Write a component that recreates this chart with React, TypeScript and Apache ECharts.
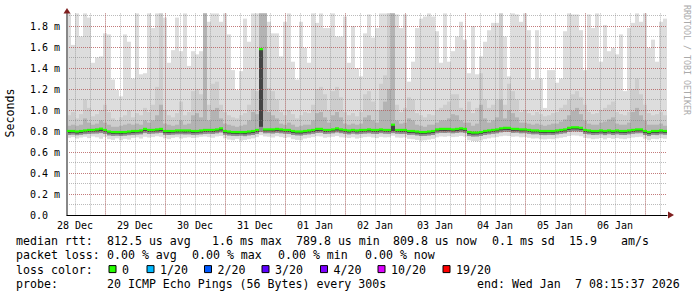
import React, { useEffect, useRef } from "react";
import * as echarts from "echarts";

// ---- data (milliseconds), one value per 4px column ----
const maxRtt = [
  1.92, 1.62, 1.92, 1.70, 1.92, 1.88, 1.45, 1.50, 1.51, 1.73,
  1.72, 1.29, 1.19, 1.13, 1.72, 1.65, 1.30, 1.92, 1.34, 1.35,
  1.92, 1.78, 1.92, 1.92, 1.88, 1.45, 1.57, 1.88, 1.56, 1.92,
  1.42, 1.56, 1.53, 1.56, 1.92, 1.84, 1.92, 1.92, 1.84, 1.92,
  1.72, 1.38, 1.19, 1.37, 1.87, 1.65, 1.92, 1.92, 1.92, 1.92,
  1.84, 1.73, 1.73, 1.51, 1.84, 1.92, 1.46, 1.29, 1.84, 1.59,
  1.45, 1.92, 1.83, 1.92, 1.78, 1.78, 1.92, 1.70, 1.70, 1.89,
  1.45, 1.80, 1.40, 1.32, 1.73, 1.91, 1.69, 1.78, 1.92, 1.92,
  1.92, 1.92, 1.91, 1.78, 1.91, 1.27, 1.46, 1.78, 1.87, 1.89,
  1.92, 1.89, 1.75, 1.45, 1.92, 1.46, 1.56, 1.70, 1.84, 1.67,
  1.35, 1.80, 1.34, 1.51, 1.65, 1.76, 1.83, 1.83, 1.92, 1.70,
  1.32, 1.92, 1.91, 1.84, 1.92, 1.76, 1.29, 1.76, 1.30, 1.02,
  1.38, 1.38, 1.26, 1.30, 1.75, 1.92, 1.91, 1.91, 1.76, 1.38,
  1.91, 1.78, 1.92, 1.46, 1.81, 1.56, 1.59, 1.53, 1.72, 1.18,
  1.78, 1.83, 1.92, 1.84, 1.92, 1.59, 1.67, 1.46, 1.84, 1.87,
];
const p90Rtt = [
  0.95, 0.98, 0.92, 0.96, 1.10, 1.02, 0.94, 0.96, 1.00, 1.05,
  0.98, 0.92, 0.90, 0.93, 0.95, 1.00, 0.93, 0.97, 0.95, 1.02,
  0.98, 1.05, 1.22, 1.92, 1.00, 0.95, 0.93, 0.97, 1.08, 0.95,
  0.98, 1.18, 1.20, 1.15, 1.92, 1.05, 1.25, 1.27, 1.05, 0.98,
  0.95, 0.93, 0.92, 0.95, 0.97, 1.05, 1.20, 1.18, 1.92, 1.92,
  1.21, 1.18, 1.10, 0.98, 0.95, 1.00, 0.96, 0.92, 0.95, 0.98,
  0.97, 1.05, 1.20, 1.22, 1.15, 1.00, 1.18, 1.22, 1.12, 0.98,
  0.95, 0.97, 0.94, 0.98, 1.15, 1.18, 1.08, 1.00, 1.25, 1.33,
  1.92, 1.92, 1.05, 0.98, 1.02, 1.12, 1.10, 0.97, 0.95, 0.93,
  0.96, 0.95, 1.00, 1.02, 1.05, 1.08, 1.15, 1.15, 1.02, 1.00,
  1.08, 0.97, 1.02, 1.35, 1.10, 1.02, 1.05, 1.10, 1.92, 1.05,
  1.25, 1.18, 1.10, 0.98, 1.00, 0.97, 0.95, 0.98, 0.96, 0.94,
  0.95, 0.97, 0.98, 1.02, 1.05, 1.10, 1.15, 1.18, 1.12, 1.05,
  0.98, 0.96, 0.97, 1.00, 1.02, 1.05, 1.08, 0.98, 0.96, 0.95,
  0.98, 1.20, 1.30, 1.15, 1.05, 0.97, 0.95, 0.96, 0.98, 0.95,
];
const p75Rtt = [
  0.85, 0.86, 0.85, 0.86, 0.92, 0.88, 0.86, 0.87, 0.90, 0.88,
  0.86, 0.84, 0.84, 0.85, 0.86, 0.87, 0.86, 0.87, 0.86, 0.90,
  0.88, 0.90, 0.95, 1.05, 0.87, 0.86, 0.85, 0.86, 0.90, 0.86,
  0.87, 0.95, 0.97, 0.93, 1.92, 0.90, 1.00, 1.02, 0.92, 0.87,
  0.86, 0.85, 0.84, 0.85, 0.86, 0.90, 0.98, 0.96, 1.92, 1.92,
  0.98, 0.95, 0.92, 0.87, 0.86, 0.88, 0.86, 0.84, 0.85, 0.86,
  0.86, 0.90, 0.97, 0.98, 0.93, 0.88, 0.95, 0.98, 0.93, 0.87,
  0.86, 0.87, 0.86, 0.87, 0.93, 0.95, 0.90, 0.88, 1.00, 1.08,
  1.20, 1.92, 0.90, 0.87, 0.88, 0.92, 0.90, 0.86, 0.85, 0.84,
  0.86, 0.86, 0.88, 0.90, 0.90, 0.92, 0.96, 0.95, 0.90, 0.88,
  0.88, 0.85, 0.87, 1.05, 0.92, 0.88, 0.90, 0.93, 1.10, 0.92,
  1.00, 0.97, 0.93, 0.88, 0.88, 0.87, 0.86, 0.87, 0.86, 0.85,
  0.86, 0.87, 0.87, 0.89, 0.91, 0.95, 0.99, 1.02, 0.96, 0.90,
  0.87, 0.86, 0.86, 0.88, 0.89, 0.91, 0.93, 0.87, 0.86, 0.86,
  0.88, 0.98, 1.02, 0.95, 0.90, 0.86, 0.86, 0.86, 0.87, 0.85,
];
const medianRtt = [
  0.800, 0.800, 0.795, 0.800, 0.805, 0.810, 0.810, 0.815, 0.822, 0.810,
  0.795, 0.790, 0.790, 0.790, 0.790, 0.795, 0.800, 0.800, 0.805, 0.820,
  0.810, 0.810, 0.815, 0.820, 0.800, 0.800, 0.800, 0.805, 0.805, 0.805,
  0.805, 0.800, 0.800, 0.805, 0.810, 0.810, 0.810, 0.815, 0.825, 0.800,
  0.795, 0.790, 0.790, 0.790, 0.790, 0.795, 0.800, 0.810, 1.580, 0.815,
  0.815, 0.815, 0.820, 0.815, 0.810, 0.810, 0.800, 0.795, 0.795, 0.800,
  0.805, 0.810, 0.820, 0.820, 0.810, 0.810, 0.815, 0.825, 0.815, 0.810,
  0.805, 0.810, 0.805, 0.810, 0.810, 0.815, 0.810, 0.810, 0.815, 0.810,
  0.810, 0.860, 0.810, 0.810, 0.810, 0.800, 0.800, 0.795, 0.790, 0.790,
  0.795, 0.800, 0.815, 0.820, 0.820, 0.820, 0.815, 0.820, 0.825, 0.820,
  0.790, 0.785, 0.785, 0.790, 0.800, 0.805, 0.810, 0.815, 0.825, 0.830,
  0.830, 0.820, 0.820, 0.815, 0.815, 0.810, 0.805, 0.805, 0.800, 0.800,
  0.800, 0.800, 0.805, 0.810, 0.815, 0.830, 0.835, 0.835, 0.830, 0.810,
  0.805, 0.800, 0.800, 0.805, 0.800, 0.805, 0.800, 0.805, 0.800, 0.800,
  0.805, 0.810, 0.815, 0.815, 0.800, 0.790, 0.800, 0.800, 0.805, 0.800,
];
const p25Rtt = [
  0.780, 0.783, 0.776, 0.781, 0.788, 0.790, 0.793, 0.795, 0.800, 0.792,
  0.777, 0.772, 0.773, 0.770, 0.774, 0.778, 0.781, 0.784, 0.786, 0.800,
  0.791, 0.793, 0.796, 0.801, 0.782, 0.780, 0.783, 0.786, 0.787, 0.785,
  0.787, 0.781, 0.783, 0.786, 0.791, 0.792, 0.790, 0.796, 0.805, 0.782,
  0.776, 0.772, 0.771, 0.773, 0.770, 0.777, 0.781, 0.790, 0.840, 0.796,
  0.797, 0.795, 0.801, 0.796, 0.792, 0.790, 0.781, 0.777, 0.776, 0.782,
  0.786, 0.791, 0.800, 0.802, 0.790, 0.792, 0.796, 0.805, 0.797, 0.791,
  0.786, 0.792, 0.787, 0.790, 0.793, 0.796, 0.791, 0.790, 0.797, 0.792,
  0.791, 0.800, 0.792, 0.790, 0.791, 0.781, 0.782, 0.776, 0.771, 0.772,
  0.776, 0.781, 0.796, 0.801, 0.800, 0.802, 0.796, 0.800, 0.806, 0.801,
  0.771, 0.766, 0.767, 0.772, 0.781, 0.786, 0.791, 0.796, 0.806, 0.811,
  0.810, 0.801, 0.802, 0.796, 0.797, 0.791, 0.786, 0.787, 0.781, 0.780,
  0.782, 0.780, 0.786, 0.791, 0.796, 0.810, 0.816, 0.815, 0.811, 0.791,
  0.786, 0.781, 0.782, 0.786, 0.780, 0.787, 0.781, 0.786, 0.782, 0.781,
  0.786, 0.791, 0.796, 0.797, 0.781, 0.771, 0.781, 0.780, 0.786, 0.782,
];
const p10Rtt = [
  0.762, 0.765, 0.760, 0.764, 0.770, 0.772, 0.775, 0.776, 0.780, 0.772,
  0.758, 0.753, 0.755, 0.752, 0.755, 0.760, 0.763, 0.766, 0.768, 0.780,
  0.772, 0.775, 0.778, 0.782, 0.764, 0.762, 0.765, 0.768, 0.769, 0.767,
  0.768, 0.763, 0.765, 0.768, 0.772, 0.774, 0.772, 0.778, 0.786, 0.764,
  0.757, 0.753, 0.752, 0.755, 0.751, 0.758, 0.762, 0.772, 0.790, 0.778,
  0.779, 0.776, 0.782, 0.778, 0.774, 0.772, 0.762, 0.758, 0.757, 0.764,
  0.768, 0.773, 0.781, 0.783, 0.772, 0.774, 0.778, 0.786, 0.779, 0.773,
  0.768, 0.774, 0.769, 0.772, 0.775, 0.778, 0.773, 0.772, 0.779, 0.774,
  0.773, 0.780, 0.774, 0.772, 0.773, 0.763, 0.764, 0.758, 0.752, 0.753,
  0.757, 0.762, 0.778, 0.782, 0.781, 0.784, 0.778, 0.782, 0.787, 0.782,
  0.752, 0.747, 0.748, 0.753, 0.762, 0.768, 0.773, 0.778, 0.787, 0.792,
  0.791, 0.782, 0.784, 0.778, 0.779, 0.773, 0.768, 0.769, 0.762, 0.761,
  0.763, 0.762, 0.768, 0.773, 0.778, 0.791, 0.797, 0.796, 0.792, 0.772,
  0.768, 0.762, 0.764, 0.768, 0.761, 0.769, 0.762, 0.768, 0.763, 0.762,
  0.768, 0.773, 0.778, 0.779, 0.762, 0.752, 0.763, 0.761, 0.768, 0.764,
];
const minRtt = [
  0.735, 0.742, 0.728, 0.738, 0.745, 0.732, 0.748, 0.740, 0.726, 0.744,
  0.722, 0.715, 0.730, 0.712, 0.725, 0.718, 0.735, 0.740, 0.728, 0.745,
  0.738, 0.742, 0.750, 0.745, 0.730, 0.722, 0.735, 0.741, 0.728, 0.736,
  0.740, 0.733, 0.738, 0.745, 0.748, 0.742, 0.736, 0.748, 0.752, 0.730,
  0.718, 0.712, 0.725, 0.708, 0.715, 0.722, 0.730, 0.742, 0.760, 0.748,
  0.745, 0.738, 0.750, 0.742, 0.735, 0.740, 0.722, 0.715, 0.712, 0.728,
  0.735, 0.742, 0.750, 0.748, 0.736, 0.741, 0.745, 0.752, 0.740, 0.738,
  0.733, 0.740, 0.728, 0.736, 0.742, 0.745, 0.738, 0.732, 0.744, 0.739,
  0.741, 0.755, 0.738, 0.736, 0.740, 0.725, 0.722, 0.715, 0.708, 0.712,
  0.718, 0.725, 0.740, 0.748, 0.745, 0.750, 0.742, 0.745, 0.752, 0.746,
  0.712, 0.705, 0.702, 0.710, 0.722, 0.730, 0.738, 0.742, 0.750, 0.755,
  0.752, 0.745, 0.748, 0.740, 0.742, 0.735, 0.728, 0.730, 0.722, 0.720,
  0.725, 0.722, 0.730, 0.736, 0.742, 0.752, 0.758, 0.756, 0.750, 0.735,
  0.730, 0.722, 0.726, 0.732, 0.720, 0.733, 0.725, 0.732, 0.726, 0.722,
  0.731, 0.738, 0.742, 0.745, 0.726, 0.712, 0.725, 0.722, 0.731, 0.726,
];

// ---- axes / ticks ----
const yMax = 1.92;
const hourStart = -15.2; // hours relative to 29 Dec 00:00
const hourEnd = 224.8;
const dayLabels = ["28 Dec", "29 Dec", "30 Dec", "31 Dec", "01 Jan", "02 Jan", "03 Jan", "04 Jan", "05 Jan", "06 Jan"];
const labelHours = dayLabels.map((_, i) => -12 + 24 * i);
const minorHours = Array.from({ length: 40 }, (_, i) => -12 + 6 * i);
const majorHours = Array.from({ length: 10 }, (_, i) => 24 * i);
const majorY = Array.from({ length: 10 }, (_, i) => +(i * 0.2).toFixed(1));
const minorY = Array.from({ length: 20 }, (_, i) => +(i * 0.1).toFixed(1));

// ---- legend texts ----
const statLines: [string, number][][] = [
  [["median rtt:", 16], ["812.5 us avg", 107], ["1.6 ms max", 212], ["789.8 us min", 296], ["809.8 us now", 393], ["0.1 ms sd", 492], ["15.9", 569], ["am/s", 621]],
  [["packet loss:", 16], ["0.00 % avg", 107], ["0.00 % max", 192], ["0.00 % min", 278], ["0.00 % now", 365]],
  [["loss color:", 16]],
  [["probe:", 16], ["20 ICMP Echo Pings (56 Bytes) every 300s", 107], ["end: Wed Jan", 477], ["7 08:15:37 2026", 575]],
];
const lineY = [241, 255.4, 269.6, 283.8];
const lossLabels = ["0", "1/20", "2/20", "3/20", "4/20", "10/20", "19/20"];
const lossColors = ["#26ff00", "#00b8ff", "#0059ff", "#5e00ff", "#7e00ff", "#dd00ff", "#ff0000"];
const lossBoxX = [108.5, 146.5, 204, 261.5, 320, 377.5, 442.5];

const MONO = '"DejaVu Sans Mono", monospace';

function buildOption() {
  const cats = maxRtt.map((_, i) => String(i));
  const layers = [
    { lo: minRtt, hi: maxRtt, color: "#dddddd" },
    { lo: p10Rtt, hi: p90Rtt, color: "#cdcdcd" },
    { lo: p25Rtt, hi: p75Rtt, color: "#b3b3b3" },
    { lo: p10Rtt, hi: medianRtt, color: "#8e8e8e" },
    { lo: p25Rtt, hi: medianRtt, color: "#444444" },
  ];
  const series: any[] = [];
  layers.forEach((l, i) => {
    series.push({
      type: "bar", stack: "s" + i, xAxisIndex: 0, yAxisIndex: 0, silent: true,
      barGap: "-100%", barCategoryGap: "0%", data: l.lo,
      itemStyle: { color: "rgba(0,0,0,0)" }, z: 2,
    });
    series.push({
      type: "bar", stack: "s" + i, xAxisIndex: 0, yAxisIndex: 0, silent: true,
      barGap: "-100%", barCategoryGap: "0%", data: l.hi.map((h, j) => +(h - l.lo[j]).toFixed(4)),
      itemStyle: { color: l.color }, z: 2,
    });
  });
  const half = 0.0105;
  series.push({
    type: "bar", stack: "med", xAxisIndex: 0, yAxisIndex: 0, silent: true,
    barGap: "-100%", barCategoryGap: "0%", data: medianRtt.map((m) => +(m - half).toFixed(4)),
    itemStyle: { color: "rgba(0,0,0,0)" }, z: 5,
  });
  series.push({
    type: "bar", stack: "med", xAxisIndex: 0, yAxisIndex: 0, silent: true,
    barGap: "-100%", barCategoryGap: "0%", data: medianRtt.map(() => half * 2),
    itemStyle: { color: "#26ff00" }, z: 5,
  });

  const minorLine = { color: "rgba(120,120,120,0.5)", type: [1, 1], width: 1 };
  const majorLine = { color: "rgba(200,80,80,0.6)", type: [1, 1], width: 1 };

  const graphics: any[] = [];
  statLines.forEach((line, li) => {
    line.forEach(([t, x]) => {
      graphics.push({
        type: "text", x, y: lineY[li], silent: true,
        style: { text: t, fontFamily: MONO, fontSize: 11.6, fill: "#000", verticalAlign: "middle", align: "left" },
      });
    });
  });
  lossLabels.forEach((lab, i) => {
    graphics.push({
      type: "rect", silent: true,
      shape: { x: lossBoxX[i] + 0.5, y: lineY[2] - 4, width: 7, height: 7 },
      style: { fill: lossColors[i], stroke: "#000", lineWidth: 1 },
    });
    graphics.push({
      type: "text", x: lossBoxX[i] + 13.5, y: lineY[2], silent: true,
      style: { text: lab, fontFamily: MONO, fontSize: 11.6, fill: "#000", verticalAlign: "middle", align: "left" },
    });
  });
  graphics.push({
    type: "text", x: 10, y: 113, rotation: Math.PI / 2, silent: true,
    style: { text: "Seconds", fontFamily: MONO, fontSize: 11.6, fill: "#000", align: "center", verticalAlign: "middle" },
  });
  graphics.push({
    type: "text", x: 686.5, y: 60, rotation: -Math.PI / 2, silent: true,
    style: { text: "RRDTOOL / TOBI OETIKER", fontFamily: MONO, fontSize: 8.3, fill: "#aaaaaa", align: "center", verticalAlign: "middle" },
  });
  graphics.push({
    type: "polygon", silent: true, z: 100,
    shape: { points: [[63.5, 13.5], [70.5, 13.5], [67, 8]] },
    style: { fill: "#7f1f1f" },
  });
  graphics.push({
    type: "polygon", silent: true, z: 100,
    shape: { points: [[668, 211.5], [668, 218.5], [674, 215]] },
    style: { fill: "#7f1f1f" },
  });

  return {
    animation: false,
    backgroundColor: "#ffffff",
    grid: { left: 67, top: 215 - yMax * 105, width: 600, height: yMax * 105, containLabel: false },
    xAxis: [
      { type: "category", data: cats, boundaryGap: true, show: false, gridIndex: 0 },
      {
        type: "value", min: hourStart, max: hourEnd, z: 3, position: "bottom",
        axisLine: { show: false, onZero: false }, axisLabel: { show: false },
        axisTick: { show: false, customValues: minorHours },
        splitLine: { show: true, lineStyle: minorLine },
      },
      {
        type: "value", min: hourStart, max: hourEnd, z: 4, position: "bottom",
        axisLine: { show: true, onZero: false, lineStyle: { color: "#000", width: 1 } },
        axisTick: { show: false, customValues: majorHours },
        axisLabel: {
          show: true, customValues: labelHours, margin: 5,
          fontFamily: MONO, fontSize: 10, color: "#000",
          formatter: (v: number) => dayLabels[Math.round((v + 12) / 24)] ?? "",
        },
        splitLine: { show: true, lineStyle: majorLine },
      },
    ],
    yAxis: [
      {
        type: "value", min: 0, max: yMax, z: 3, position: "left",
        axisLine: { show: false, onZero: false }, axisLabel: { show: false },
        axisTick: { show: false, customValues: minorY },
        splitLine: { show: true, lineStyle: minorLine },
      },
      {
        type: "value", min: 0, max: yMax, z: 3, position: "left",
        axisLine: { show: true, onZero: false, lineStyle: { color: "#888888", width: 2 } },
        axisTick: { show: false, customValues: majorY },
        axisLabel: {
          show: true, customValues: majorY, align: "left", margin: 37,
          fontFamily: MONO, fontSize: 10, color: "#000",
          formatter: (v: number) => (v === 0 ? "0.0" : v.toFixed(1) + " m"),
        },
        splitLine: { show: true, lineStyle: majorLine },
      },
    ],
    series,
    graphic: { elements: graphics },
  };
}

export default function App() {
  const ref = useRef<HTMLDivElement>(null);
  useEffect(() => {
    if (!ref.current) return;
    const chart = echarts.init(ref.current, null, { renderer: "svg" });
    chart.setOption(buildOption() as any);
    return () => chart.dispose();
  }, []);
  return <div ref={ref} style={{ position: "fixed", left: 0, top: 0, width: 697, height: 297 }} />;
}
